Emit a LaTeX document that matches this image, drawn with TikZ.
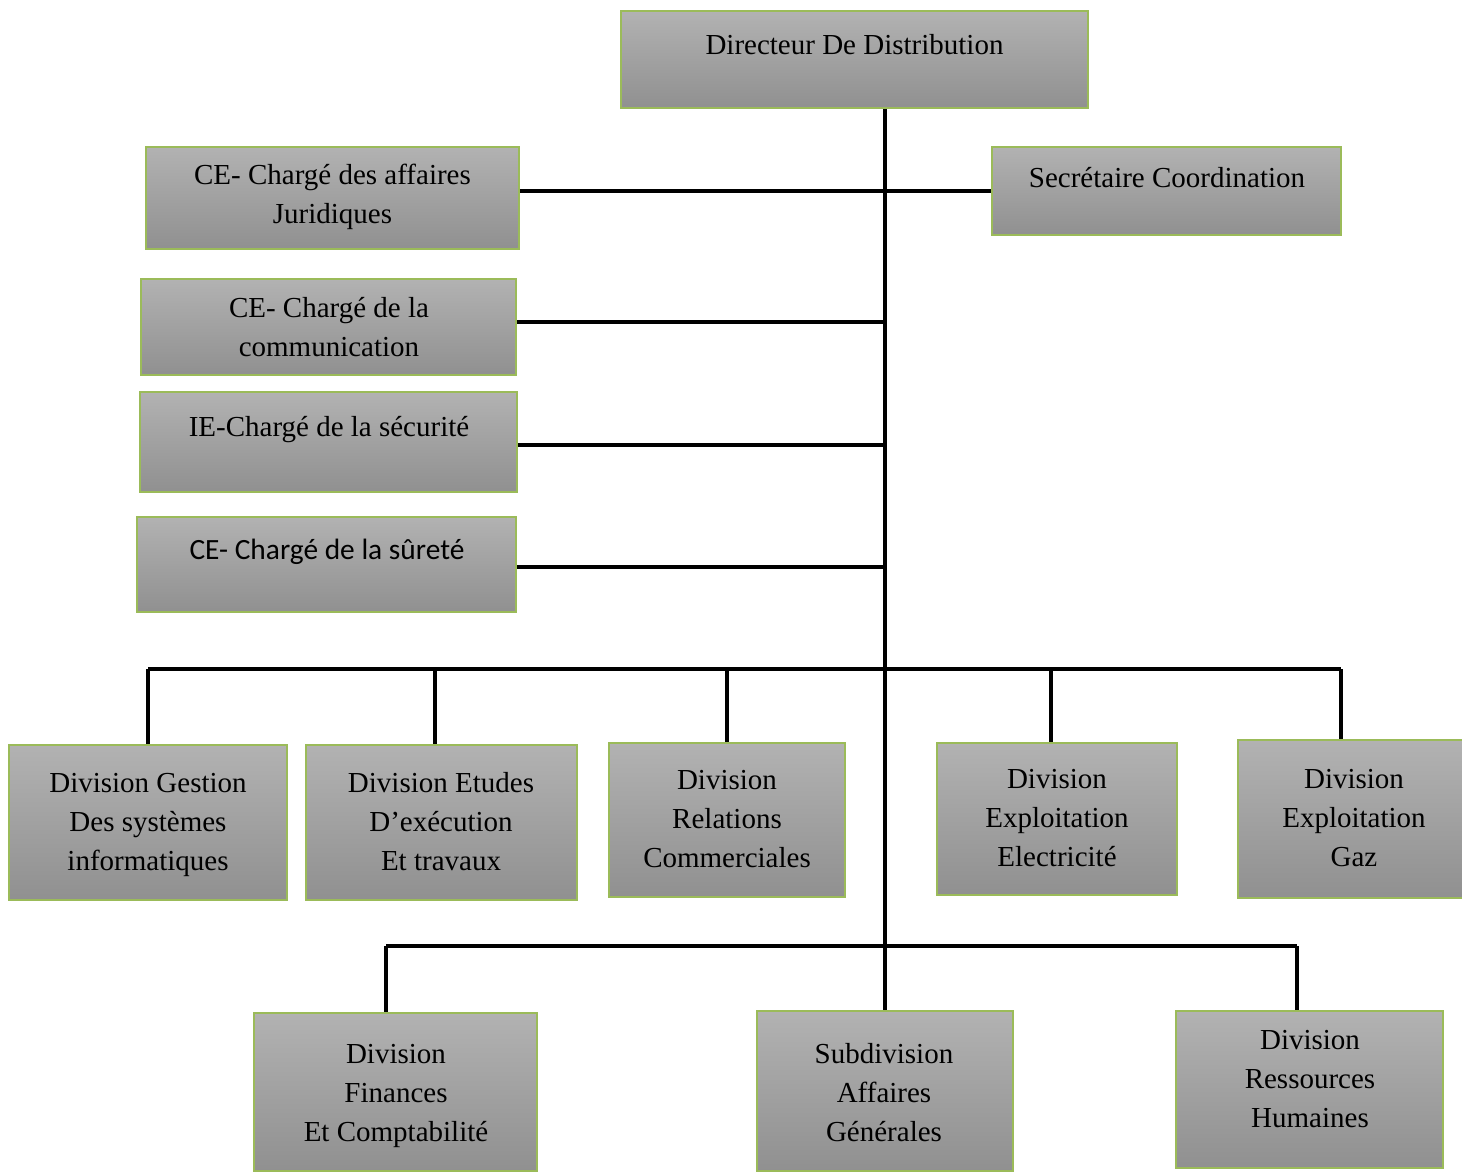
\documentclass[tikz,border=0pt]{standalone}
\usepackage{fontspec}
\setmainfont{Liberation Serif}
\newfontfamily\calib{Carlito}
\usepackage{xcolor}
\usepackage{tikz}
\usetikzlibrary{positioning}

\definecolor{boxtop}{RGB}{178,178,178}
\definecolor{boxbot}{RGB}{144,144,144}
\definecolor{boxline}{RGB}{155,187,89}

\begin{document}
\begin{tikzpicture}[x=1pt,y=-1pt]
	\tikzstyle{unit}=[rectangle,draw=boxline,line width=1.5pt,top color=boxtop,bottom color=boxbot,inner sep=0pt]
	\tikzstyle{txt}=[align=center,inner sep=0pt,font=\fontsize{29}{39}\selectfont]
	\tikzstyle{conn}=[line width=3.5pt,black]
	\useasboundingbox (0,0) rectangle (1462,1171);
	% boxes
	\node[unit,minimum width=467,minimum height=97](dir) at (854.5,59.5) {};
	\node[unit,minimum width=373,minimum height=102](juri) at (332.5,198) {};
	\node[unit,minimum width=349,minimum height=88](secr) at (1166.5,191) {};
	\node[unit,minimum width=375,minimum height=96](comm) at (328.5,327) {};
	\node[unit,minimum width=377,minimum height=100](secu) at (328.5,442) {};
	\node[unit,minimum width=379,minimum height=95](sure) at (326.5,564.5) {};
	\node[unit,minimum width=278,minimum height=155](dgsi) at (148,822.5) {};
	\node[unit,minimum width=271,minimum height=155](dete) at (441.5,822.5) {};
	\node[unit,minimum width=236,minimum height=154](drc) at (727,820) {};
	\node[unit,minimum width=240,minimum height=152](elec) at (1057,819) {};
	\node[unit,minimum width=232,minimum height=158](gaz) at (1354,819) {};
	\node[unit,minimum width=283,minimum height=158](fin) at (395.5,1092) {};
	\node[unit,minimum width=256,minimum height=160](subd) at (885,1091) {};
	\node[unit,minimum width=267,minimum height=157](rh) at (1309.5,1089.5) {};
	% texts
	\node[txt](dir-t) at (854.5,45) {Directeur De Distribution};
	\node[txt](juri-t) at (332.5,197) {CE- Chargé des affaires\\Juridiques};
	\node[txt](secr-t) at (1167,178) {Secrétaire Coordination};
	\node[txt](comm-t) at (329,327) {CE- Chargé de la\\communication};
	\node[txt](secu-t) at (329,430) {IE-Chargé de la sécurité};
	\node[txt,font=\calib\fontsize{29.4}{36}\selectfont](sure-t) at (327,552) {CE- Chargé de la sûreté};
	\node[txt](dgsi-t) at (148,825) {Division Gestion\\Des systèmes\\informatiques};
	\node[txt](dete-t) at (441,822) {Division Etudes\\D’exécution\\Et travaux};
	\node[txt](drc-t) at (727,819) {Division\\Relations\\Commerciales};
	\node[txt](elec-t) at (1057,818) {Division\\Exploitation\\Electricité};
	\node[txt](gaz-t) at (1354,818) {Division\\Exploitation\\Gaz};
	\node[txt](fin-t) at (396,1096) {Division\\Finances\\Et Comptabilité};
	\node[txt](subd-t) at (884,1093) {Subdivision\\Affaires\\Générales};
	\node[txt](rh-t) at (1310,1079) {Division\\Ressources\\Humaines};
	% connectors
	\coordinate (bus1) at (885,669);
	\coordinate (bus2) at (885,946);
	\foreach \d/\s in {dgsi/0,dete/-6.5,drc/0,elec/-6,gaz/-13,fin/-9.5,rh/-12.5}
		\coordinate (\d-in) at ([xshift=\s pt]\d.north);
	\draw[conn](dir.south -| subd.north) -- (subd.north);
	\draw[conn](juri.east |- secr.west) -- (secr.west);
	\draw[conn]([yshift=5pt]comm.east) -- ([yshift=5pt]comm.east -| subd.north);
	\draw[conn]([yshift=-3pt]secu.east) -- ([yshift=-3pt]secu.east -| subd.north);
	\draw[conn]([yshift=-2.5pt]sure.east) -- ([yshift=-2.5pt]sure.east -| subd.north);
	\draw[conn](bus1 -| dgsi-in) -- (bus1 -| gaz-in);
	\foreach \d in {dgsi,dete,drc,elec,gaz}
		\draw[conn](bus1 -| \d-in) -- (\d-in);
	\draw[conn](bus2 -| fin-in) -- (bus2 -| rh-in);
	\foreach \d in {fin,rh}
		\draw[conn](bus2 -| \d-in) -- (\d-in);
\end{tikzpicture}
\end{document}
